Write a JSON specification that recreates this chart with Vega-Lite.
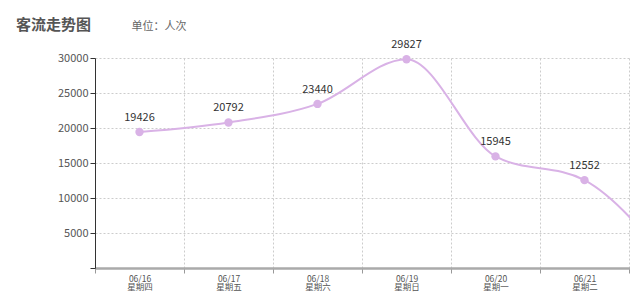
{
  "$schema": "https://vega.github.io/schema/vega-lite/v6.json",
  "width": 533,
  "height": 210,
  "autosize": {"type": "none"},
  "padding": {"left": 95, "top": 58, "right": 2, "bottom": 36},
  "background": "white",
  "config": {"view": {"stroke": null}, "font": "Noto Sans CJK SC"},
  "title": {"text": "客流走势图", "anchor": "start", "frame": "group", "dx": -79, "dy": 13, "fontSize": 15, "fontWeight": "bold", "color": "#555555", "offset": 0},
  "data": {"values": [
    {"day": "06/16 星期四", "count": 19426},
    {"day": "06/17 星期五", "count": 20792},
    {"day": "06/18 星期六", "count": 23440},
    {"day": "06/19 星期日", "count": 29827},
    {"day": "06/20 星期一", "count": 15945},
    {"day": "06/21 星期二", "count": 12552},
    {"day": "06/22 星期三", "count": 0}
  ]},
  "encoding": {
    "x": {"field": "day", "type": "nominal", "sort": null, "bandPosition": 0.5,
      "scale": {"type": "band", "paddingInner": 0, "paddingOuter": 0, "range": [0, 623]},
      "axis": {"title": null, "tickBand": "extent", "labelExpr": "split(datum.label, ' ')", "labelAngle": 0, "labelFontSize": 8.5, "labelColor": "#555555", "labelLineHeight": 8.5, "labelPadding": 1, "labelOverlap": false, "domainColor": "#aaaaaa", "domainWidth": 2.5, "tickColor": "#999999", "tickSize": 5, "grid": true, "gridColor": "#cccccc", "gridDash": [2, 2]}},
    "y": {"field": "count", "type": "quantitative",
      "scale": {"domain": [0, 30000], "nice": false},
      "axis": {"values": [0, 5000, 10000, 15000, 20000, 25000, 30000], "format": "d", "labelExpr": "datum.value == 0 ? '' : datum.label", "title": "单位：人次", "titleAngle": 0, "titleAlign": "left", "titleBaseline": "middle", "titleX": 36, "titleY": -32, "titleFontSize": 11, "titleFontWeight": "normal", "titleColor": "#666666", "domainColor": "#333333", "tickColor": "#333333", "tickSize": 5, "labelFontSize": 11, "labelColor": "#555555", "labelPadding": 2, "gridColor": "#cccccc", "gridDash": [2, 2]}}
  },
  "layer": [
    {"mark": {"type": "line", "interpolate": "monotone", "color": "#d9b2e6", "strokeWidth": 2}},
    {"mark": {"type": "point", "filled": true, "size": 70, "color": "#d9b2e6", "opacity": 1}},
    {"mark": {"type": "text", "dy": -14, "fontSize": 11, "color": "#333333"}, "encoding": {"text": {"field": "count", "type": "quantitative", "format": "d"}}}
  ]
}
